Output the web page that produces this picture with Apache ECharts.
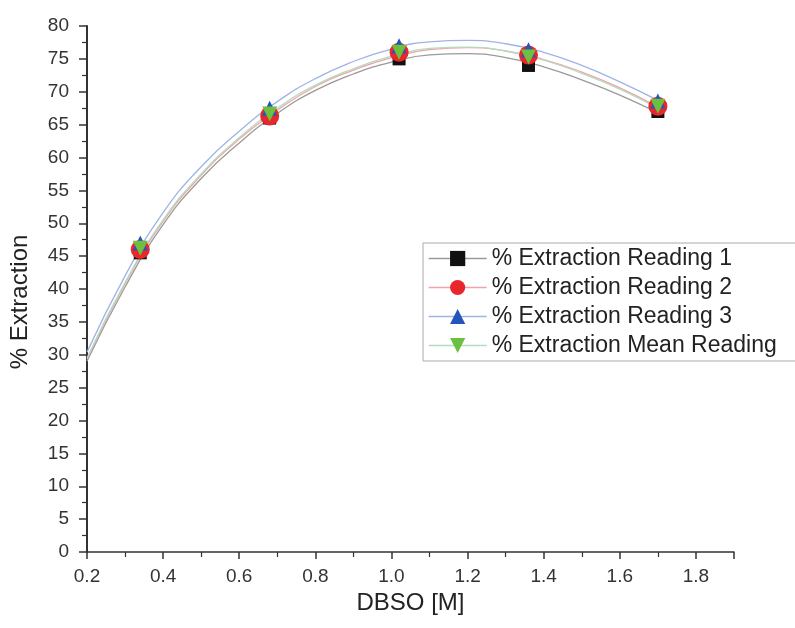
<!DOCTYPE html>
<html>
<head>
<meta charset="utf-8">
<script src="https://cdn.jsdelivr.net/npm/echarts@6/dist/echarts.min.js"></script>
<style>html,body{margin:0;padding:0;background:#fff}#c{width:795px;height:628px}</style>
</head>
<body>
<div id="c"></div>
<script>
// Measured points
var concentrations = [0.34, 0.68, 1.02, 1.36, 1.70];
var reading1 = [45.5, 66.0, 75.0, 74.0, 67.0];
var reading2 = [46.0, 66.3, 76.0, 75.6, 67.8];
var reading3 = [47.0, 67.5, 77.0, 76.4, 68.6];
var readingMean = [46.2, 66.6, 76.0, 75.3, 67.8];

// Fitted curves
var fitX = [0.2, 0.3, 0.4, 0.5, 0.6, 0.7, 0.8, 0.9, 1.0, 1.1, 1.2, 1.3, 1.4, 1.5, 1.6, 1.7];
var fit1 = [29.0, 40.3, 49.8, 56.8, 62.2, 66.7, 70.2, 72.7, 74.5, 75.6, 75.8, 75.2, 73.8, 71.8, 69.5, 66.8];
var fit2 = [29.3, 40.8, 50.3, 57.3, 62.8, 67.2, 70.8, 73.3, 75.2, 76.4, 76.7, 76.2, 74.9, 73.0, 70.6, 67.7];
var fit3 = [30.4, 42.0, 51.6, 58.6, 64.0, 68.5, 72.0, 74.6, 76.5, 77.6, 77.8, 77.3, 76.0, 74.0, 71.5, 68.7];
var fitMean = [29.5, 41.0, 50.5, 57.5, 63.0, 67.5, 71.0, 73.5, 75.4, 76.6, 76.8, 76.2, 74.8, 72.8, 70.4, 67.5];

var seriesNames = ['% Extraction Reading 1', '% Extraction Reading 2', '% Extraction Reading 3', '% Extraction Mean Reading'];
var xTicks = ['0.2', '0.4', '0.6', '0.8', '1.0', '1.2', '1.4', '1.6', '1.8'];

function pairs(xs, ys) { return xs.map(function (x, i) { return [x, ys[i]]; }); }

var markColors = ['#111111', '#e8262b', '#2356b8', '#6cbf3f'];
var lineColors = ['#9a9a9a', '#f2a3a3', '#9fb3e6', '#b3dcc3'];
var symbols = ['rect', 'circle', 'triangle', 'triangle'];
var sizes = [13, 19, 15, 15];
var rotates = [0, 0, 0, 180];
var pts = [reading1, reading2, reading3, readingMean];
var fits = [fit1, fit2, fit3, fitMean];

var series = [];
fits.forEach(function (f, i) {
  series.push({
    name: 'fit' + i, type: 'line', smooth: 0.5, showSymbol: false, silent: true, z: 1,
    data: pairs(fitX, f),
    lineStyle: { color: lineColors[i], width: 1.3 }
  });
});
pts.forEach(function (p, i) {
  series.push({
    name: seriesNames[i], type: 'line', z: 3 + i,
    data: pairs(concentrations, p),
    symbol: symbols[i], symbolSize: sizes[i], symbolRotate: rotates[i], showSymbol: true,
    itemStyle: { color: markColors[i], opacity: 1 },
    lineStyle: { opacity: 0 }
  });
});

var chart = echarts.init(document.getElementById('c'));
chart.setOption({
  animation: false,
  backgroundColor: '#fff',
  grid: { left: 87, top: 26, right: 61, bottom: 76 },
  legend: {
    left: 423, top: 243, orient: 'vertical',
    padding: [4, 22, 4, 5], itemGap: 6, itemWidth: 58, itemHeight: 19,
    borderColor: '#aaa', borderWidth: 1,
    textStyle: { fontFamily: 'Liberation Sans', fontSize: 23, color: '#222' },
    data: seriesNames.map(function (n, i) {
      return { name: n, lineStyle: { color: lineColors[i], width: 1.3, opacity: 1, type: 'solid' } };
    })
  },
  xAxis: {
    type: 'value', min: 0.2, max: 1.9, interval: 0.2,
    name: 'DBSO [M]', nameLocation: 'middle', nameGap: 36,
    nameTextStyle: { fontFamily: 'Liberation Sans', fontSize: 24, color: '#222' },
    axisLine: { lineStyle: { color: '#333', width: 1.5 } },
    axisTick: { length: 7, lineStyle: { color: '#333', width: 1.5 } },
    minorTick: { show: true, splitNumber: 2, length: 5, lineStyle: { color: '#333', width: 1.2 } },
    splitLine: { show: false },
    axisLabel: {
      margin: 15, fontFamily: 'Liberation Sans', fontSize: 19, color: '#333',
      formatter: function (v) {
        var s = v.toFixed(1);
        return xTicks.indexOf(s) >= 0 ? s : '';
      }
    }
  },
  yAxis: {
    type: 'value', min: 0, max: 80, interval: 5,
    name: '% Extraction', nameLocation: 'middle', nameGap: 55, nameRotate: 90,
    nameTextStyle: { fontFamily: 'Liberation Sans', fontSize: 24, color: '#222', padding: [0, 26, 0, 0] },
    axisLine: { show: true, lineStyle: { color: '#333', width: 2 } },
    axisTick: { show: true, length: 8, lineStyle: { color: '#333', width: 1.5 } },
    minorTick: { show: true, splitNumber: 2, length: 5, lineStyle: { color: '#333', width: 1.2 } },
    splitLine: { show: false },
    axisLabel: { margin: 18, fontFamily: 'Liberation Sans', fontSize: 19, color: '#333' }
  },
  series: series
});
</script>
</body>
</html>
